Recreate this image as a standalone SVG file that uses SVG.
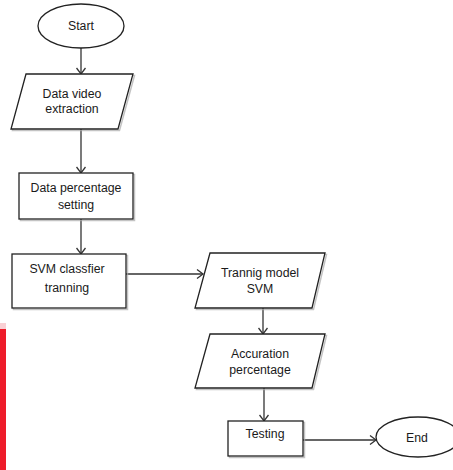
<svg xmlns="http://www.w3.org/2000/svg" width="453" height="470" viewBox="0 0 453 470">
<style>
.shape{fill:#fff;stroke:#222;stroke-width:1.3}
.shadow{fill:none;stroke:#aaa;stroke-width:1.5;opacity:0.7}
.lbl{font-family:"Liberation Sans",Arial,sans-serif;font-size:12.3px;fill:#1a1a1a;text-anchor:middle}
.conn{fill:none;stroke:#333;stroke-width:1.3}
</style>
<defs>
<marker id="arr" markerWidth="10" markerHeight="10" refX="7" refY="5" orient="auto" markerUnits="userSpaceOnUse">
<path d="M1,0.5 L7,5 L1,9.5" fill="none" stroke="#333" stroke-width="1.3"/>
</marker>
</defs>
<rect x="0" y="323" width="6" height="6" fill="#f9d0d4"/>
<rect x="0" y="329" width="6" height="141" fill="#ee1c2a"/>
<g id="connectors">
<line class="conn" x1="81" y1="48" x2="81" y2="74" marker-end="url(#arr)"/>
<line class="conn" x1="81" y1="129" x2="81" y2="173" marker-end="url(#arr)"/>
<line class="conn" x1="81" y1="219" x2="81" y2="254" marker-end="url(#arr)"/>
<line class="conn" x1="126" y1="274" x2="203" y2="274" marker-end="url(#arr)"/>
<line class="conn" x1="263" y1="308" x2="263" y2="334" marker-end="url(#arr)"/>
<line class="conn" x1="264" y1="388" x2="264" y2="421" marker-end="url(#arr)"/>
<line class="conn" x1="303" y1="440" x2="376" y2="440" marker-end="url(#arr)"/>
</g>
<g id="start">
<ellipse class="shape" cx="81" cy="26" rx="43" ry="22"/>
<text class="lbl" x="81" y="30">Start</text>
</g>
<g id="data-video">
<polygon class="shadow" points="27.5,75.5 134.5,75.5 119.5,130.5 12.5,130.5"/>
<polygon class="shape" points="26,74 133,74 118,129 11,129"/>
<text class="lbl" x="72" y="98">Data video</text>
<text class="lbl" x="72" y="113">extraction</text>
</g>
<g id="data-percentage">
<rect class="shadow" x="20.5" y="174.5" width="114" height="46"/>
<rect class="shape" x="19" y="173" width="114" height="46"/>
<text class="lbl" x="76" y="192">Data percentage</text>
<text class="lbl" x="76" y="209">setting</text>
</g>
<g id="svm-training">
<rect class="shadow" x="13.5" y="255.5" width="114" height="54"/>
<rect class="shape" x="12" y="254" width="114" height="54"/>
<text class="lbl" x="67" y="273">SVM classfier</text>
<text class="lbl" x="67" y="292">tranning</text>
</g>
<g id="training-model">
<polygon class="shadow" points="211.5,254.5 326.5,254.5 313.5,309.5 196.5,309.5"/>
<polygon class="shape" points="210,253 325,253 312,308 195,308"/>
<text class="lbl" x="260" y="277">Trannig model</text>
<text class="lbl" x="260" y="293">SVM</text>
</g>
<g id="accuration">
<polygon class="shadow" points="211.5,335.5 326.5,335.5 313.5,389.5 196.5,389.5"/>
<polygon class="shape" points="210,334 325,334 312,388 195,388"/>
<text class="lbl" x="260" y="358">Accuration</text>
<text class="lbl" x="260" y="374">percentage</text>
</g>
<g id="testing">
<rect class="shadow" x="229.5" y="422.5" width="75" height="35"/>
<rect class="shape" x="228" y="421" width="75" height="35"/>
<text class="lbl" x="265" y="438">Testing</text>
</g>
<g id="end">
<ellipse class="shape" cx="418" cy="437" rx="42" ry="20"/>
<text class="lbl" x="417" y="442">End</text>
</g>
</svg>
